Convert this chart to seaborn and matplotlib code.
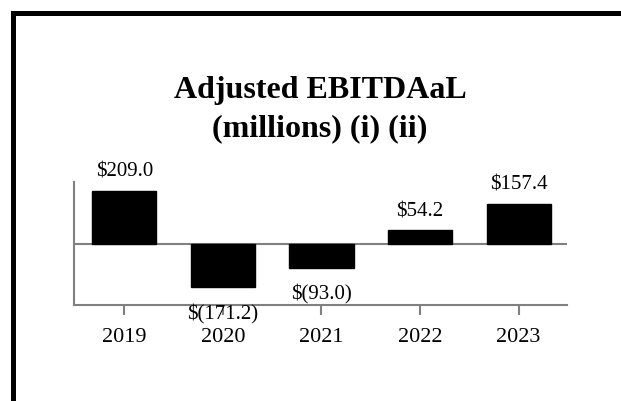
import matplotlib
matplotlib.use("Agg")
import matplotlib.pyplot as plt
import seaborn as sns
import pandas as pd
from matplotlib.lines import Line2D

# dados do grafico
anos = ["2019", "2020", "2021", "2022", "2023"]
valores = [209.0, -171.2, -93.0, 54.2, 157.4]
rotulos = ["\\$209.0", "\\$(171.2)", "\\$(93.0)", "\\$54.2", "\\$157.4"]
titulo = ["Adjusted EBITDAaL", "(millions) (i) (ii)"]

df = pd.DataFrame({"ano": anos, "valor": valores})

sns.set_style("white")
plt.rcParams["font.family"] = ["Liberation Serif", "DejaVu Serif"]
plt.rcParams["text.color"] = "black"
plt.rcParams["xtick.labelcolor"] = "black"

fig = plt.figure(figsize=(6.21, 4.02), dpi=100)
ax = fig.add_axes([74 / 621, 1 - 306 / 402, (567 - 74) / 621, (306 - 183) / 402])

sns.barplot(data=df, x="ano", y="valor", color="black", width=0.65,
            saturation=1, ax=ax, edgecolor="black")

ax.set_xlim(-0.51, 4.49)
ax.set_ylim(-240, 243)
ax.axhline(0, color="#808080", lw=1.5, zorder=0.5)

for s in ["top", "right"]:
    ax.spines[s].set_visible(False)
for s in ["left", "bottom"]:
    ax.spines[s].set_color("#808080")
    ax.spines[s].set_linewidth(1.5)

ax.set_yticks([])
ax.tick_params(axis="x", direction="out", length=7, width=1.5, color="#808080",
               pad=9, labelsize=16, labelcolor="black", bottom=True)
ax.set_xlabel("")
ax.set_ylabel("")

for i, (v, r) in enumerate(zip(valores, rotulos)):
    dy = 14 if v > 0 else -19
    ax.annotate(r, (i, v), xytext=(0, dy), textcoords="offset points",
                ha="center", va="center", fontsize=15, color="black")

# titulo em duas linhas
fig.text(320 / 621, 1 - 98 / 402, titulo[0], ha="center", va="baseline",
         fontsize=23, fontweight="bold", color="black")
fig.text(320 / 621, 1 - 136 / 402, titulo[1], ha="center", va="baseline",
         fontsize=23, fontweight="bold", color="black")

# moldura (esquerda e topo)
fig.add_artist(Line2D([13 / 621, 13 / 621], [0, 1 - 13.5 / 402], color="black",
                      lw=3.6, transform=fig.transFigure, solid_capstyle="projecting"))
fig.add_artist(Line2D([13 / 621, 1], [1 - 13.5 / 402, 1 - 13.5 / 402], color="black",
                      lw=3.6, transform=fig.transFigure, solid_capstyle="projecting"))

fig.savefig("out.png", dpi=100)
